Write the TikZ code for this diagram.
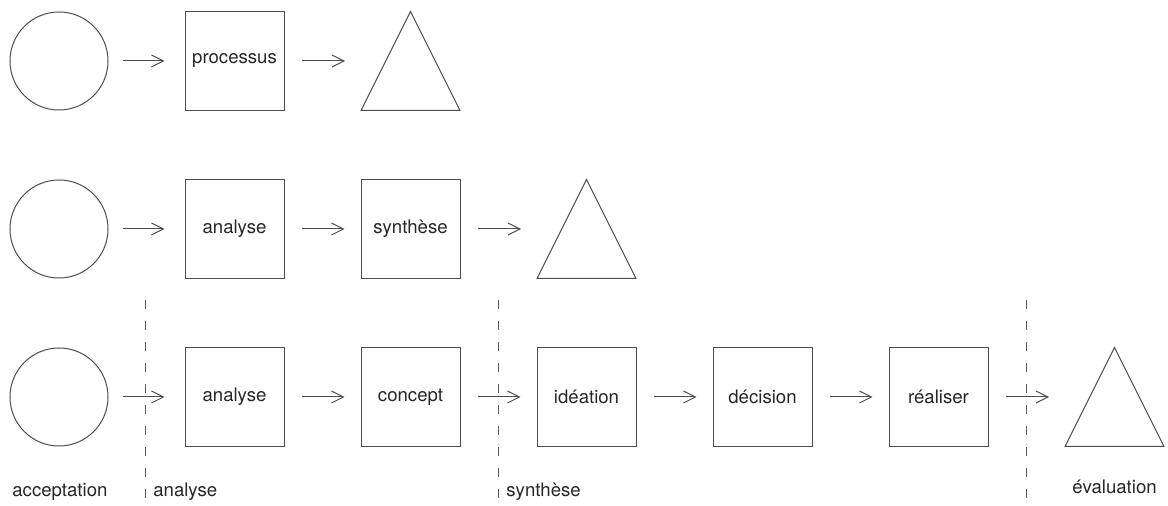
\documentclass[tikz,border=0pt]{standalone}
\usepackage{fontspec}
\setmainfont{TeX Gyre Heros}
\usetikzlibrary{arrows.meta}

\tikzset{
  outline/.style={draw=black!70,line width=0.5pt},
  start/.style={outline,circle,minimum size=49pt,inner sep=0pt},
  stage/.style={outline,rectangle,minimum size=49.5pt,inner sep=0pt,
    font=\fontsize{9.3}{11}\selectfont,text=black!85},
  goal/.style={rectangle,minimum size=49pt,inner sep=0pt},
  flow/.style={-{Straight Barb[length=6pt,width=6pt]},draw=black!70,
    line width=0.5pt,shorten <=8.5pt,shorten >=8pt},
  fromstart/.style={flow,shorten <=7pt,shorten >=10pt},
  phase/.style={draw=black!65,line width=0.5pt,dash pattern=on 4.5pt off 6pt},
  tag/.style={font=\fontsize{9.3}{11}\selectfont,text=black!85,inner sep=0pt}
}
\newcommand\goalshape[1]{\draw[outline] (#1.north)--(#1.south east)--(#1.south west)--cycle;}

\begin{document}
\begin{tikzpicture}[x=0.5pt,y=-0.5pt]
\useasboundingbox (0,0) rectangle (1168,506);

% simple model
\node[start] (a0) at (59,61) {};
\node[stage] (a1) at (234.5,61) {processus};
\node[goal]  (a2) at (410.5,61) {};
\goalshape{a2}
\draw[fromstart] (a0.east)--(a1.west);
\draw[flow] (a1.east)--(a2.west);

% analysis and synthesis
\node[start] (b0) at (59,229) {};
\node[stage] (b1) at (234.5,229) {analyse};
\node[stage] (b2) at (410.5,229) {synthèse};
\node[goal]  (b3) at (586.5,229) {};
\goalshape{b3}
\draw[fromstart] (b0.east)--(b1.west);
\draw[flow] (b1.east)--(b2.west);
\draw[flow] (b2.east)--(b3.west);

% extended model
\node[start] (c0) at (59,397) {};
\node[stage] (c1) at (234.5,397) {analyse};
\node[stage] (c2) at (410.5,397) {concept};
\node[stage] (c3) at (586.5,397) {idéation};
\node[stage] (c4) at (762.5,397) {décision};
\node[stage] (c5) at (938.5,397) {réaliser};
\node[goal]  (c6) at (1114.5,397) {};
\goalshape{c6}
\draw[fromstart] (c0.east)--(c1.west);
\foreach \i/\j in {1/2,2/3,3/4,4/5,5/6}
  \draw[flow] (c\i.east)--(c\j.west);

% phase dividers
\foreach \x in {145,498,1026}
  \draw[phase] (\x,300)--(\x,498);

\node[tag,anchor=base west] (l0) at (12,497) {acceptation};
\node[tag,anchor=base west] (l1) at (153,497) {analyse};
\node[tag,anchor=base west] (l2) at (506,497) {synthèse};
\node[tag,anchor=base] (l3) at (1114.5,494) {évaluation};
\end{tikzpicture}
\end{document}
